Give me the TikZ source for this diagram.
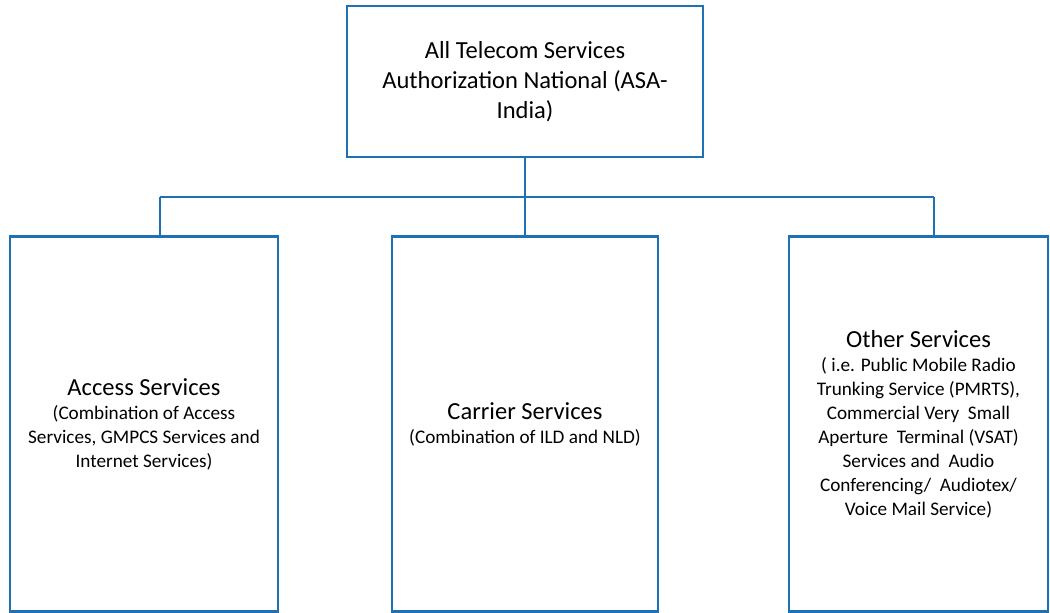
\documentclass[tikz,border=0pt]{standalone}
\usepackage{fontspec}
\setmainfont{Carlito}
\usepackage{xcolor}
\usepackage{tikz}
\usetikzlibrary{positioning,calc}

\definecolor{asablue}{RGB}{31,113,181}
\newcommand{\topsize}{\fontsize{18.4}{22.5}\selectfont}
\newcommand{\notesize}{\fontsize{14.4}{18}\selectfont}
\newcommand{\grouphead}[1]{{\fontsize{18.4}{18}\selectfont #1}}

\begin{document}
\begin{tikzpicture}[x=0.75pt,y=-0.75pt,
  every node/.style={align=center,inner sep=0pt,outer sep=0pt},
  svcbox/.style={draw=asablue,line width=1.7pt,minimum height=281.25pt,font=\notesize},
  link/.style={draw=asablue,line width=1.3pt}]
\useasboundingbox (0,0) rectangle (1050,613);

% authorization box at the top
\node[draw=asablue,line width=1.7pt,minimum width=267pt,minimum height=113pt,font=\topsize]
  (asa) at (525,81.5) {All Telecom Services\\Authorization National (ASA-\\India)};

% the three service groups
\node[svcbox,minimum width=201pt] (access) at (144,424)
  {\grouphead{Access Services}\\(Combination of Access\\Services, GMPCS Services and\\Internet Services)};
\node[svcbox,minimum width=199.5pt] (carrier) at (525,424)
  {\grouphead{Carrier Services}\\(Combination of ILD and NLD)};
\node[svcbox,minimum width=194.25pt] (other) at (918.5,424)
  {\grouphead{Other Services}\\( i.e. Public Mobile Radio\\Trunking Service (PMRTS),\\Commercial Very\ \ Small\\Aperture\ \ Terminal (VSAT)\\Services and\ \ Audio\\Conferencing/\ \ Audiotex/\\Voice Mail Service)};

% connectors
\coordinate (jL) at (160,197);
\coordinate (jR) at (934,197);
\draw[link] (asa.south) -- (carrier.north);
\draw[link] (jL) -- (jR);
\draw[link] (jL) -- (jL |- access.north);
\draw[link] (jR) -- (jR |- other.north);
\end{tikzpicture}
\end{document}
